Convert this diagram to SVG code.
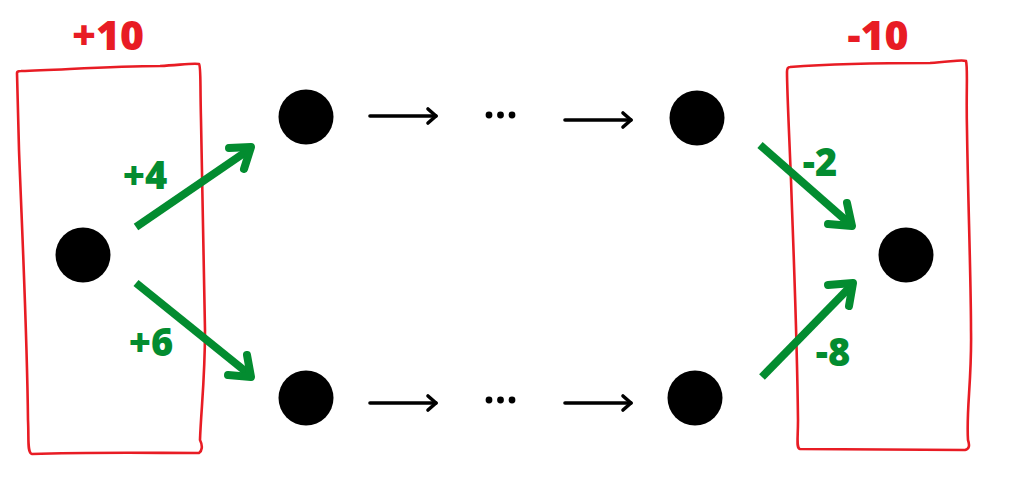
<svg xmlns="http://www.w3.org/2000/svg" width="1024" height="491" viewBox="0 0 1024 491">
<style>
.box{fill:none;stroke:#e81c24;stroke-width:2.6;stroke-linejoin:round;stroke-linecap:round}
.node{fill:#000}
.g{fill:none;stroke:#038c30;stroke-width:8;stroke-linecap:butt;stroke-linejoin:round}
.gh{fill:none;stroke:#038c30;stroke-width:8;stroke-linecap:round;stroke-linejoin:round}
.k{fill:none;stroke:#000;stroke-width:3.6;stroke-linecap:round;stroke-linejoin:round}
.lblr{font-family:"Open Sans","DejaVu Sans",sans-serif;font-weight:800;font-size:41px;fill:#e81c24}
.lblg{font-family:"Open Sans","DejaVu Sans",sans-serif;font-weight:800;font-size:38px;fill:#038c30}
</style>
<g id="box-left">
<path class="box" d="M21,71 C60,70 110,66 160,66 C180,65 192,63 199,64 C201,66 200,80 201,120 C202,190 204,260 205,330 C205,380 201,410 200,440 C203,446 202,451 199,453 C150,453 90,452 32,454 C27,453 29,440 28,420 C27,330 22,230 19,150 C18,110 17,80 17,73 C17,71 19,71 21,71 Z"/>
<text class="lblr" x="108" y="50" text-anchor="middle">+10</text>
</g>
<g id="box-right">
<path class="box" d="M790,67 C830,64 880,63 930,63 C950,62 962,59 966,61 C968,68 966,90 967,130 C968,200 971,280 971,330 C972,380 966,410 968,440 C970,446 969,449 965,450 C900,450 850,449 800,449 C796,448 798,440 798,420 C797,330 793,240 791,180 C789,130 787,90 787,72 C787,69 788,67 790,67 Z"/>
<text class="lblr" x="878" y="50" text-anchor="middle">-10</text>
</g>
<g id="node-src"><circle class="node" cx="83" cy="255" r="27.5"/></g>
<g id="node-top1"><circle class="node" cx="306" cy="117" r="27.5"/></g>
<g id="node-top2"><circle class="node" cx="697" cy="118" r="27.5"/></g>
<g id="node-bot1"><circle class="node" cx="306" cy="398" r="27.5"/></g>
<g id="node-bot2"><circle class="node" cx="695" cy="398" r="27.5"/></g>
<g id="node-sink"><circle class="node" cx="906" cy="255" r="27.5"/></g>
<g id="connectors">
<line class="g" x1="136" y1="227" x2="250" y2="149"/>
<path class="gh" d="M229,148 L251,147 L244,169"/>
<line class="g" x1="136" y1="283" x2="250" y2="375"/>
<path class="gh" d="M228,375 L251,377 L247,355"/>
<line class="g" x1="760" y1="145" x2="850" y2="224"/>
<path class="gh" d="M828,224 L852,226 L847,203"/>
<line class="g" x1="762" y1="377" x2="850" y2="287"/>
<path class="gh" d="M828,285 L853,283 L849,306"/>
<line class="k" x1="370" y1="116" x2="436" y2="116"/>
<path class="k" d="M428,109 L436,116 L428,123"/>
<line class="k" x1="565" y1="120" x2="631" y2="120"/>
<path class="k" d="M623,113 L631,120 L623,127"/>
<line class="k" x1="370" y1="403" x2="436" y2="403"/>
<path class="k" d="M428,396 L436,403 L428,410"/>
<line class="k" x1="565" y1="403" x2="631" y2="403"/>
<path class="k" d="M623,396 L631,403 L623,410"/>
<circle class="node" cx="489" cy="115" r="3.4"/>
<circle class="node" cx="500.5" cy="115" r="3.4"/>
<circle class="node" cx="512" cy="115" r="3.4"/>
<circle class="node" cx="489" cy="400" r="3.4"/>
<circle class="node" cx="500.5" cy="400" r="3.4"/>
<circle class="node" cx="512" cy="400" r="3.4"/>
<text class="lblg" x="145" y="189" text-anchor="middle">+4</text>
<text class="lblg" x="151" y="356" text-anchor="middle">+6</text>
<text class="lblg" x="820" y="176" text-anchor="middle">-2</text>
<text class="lblg" x="833" y="366" text-anchor="middle">-8</text>
</g>
</svg>
